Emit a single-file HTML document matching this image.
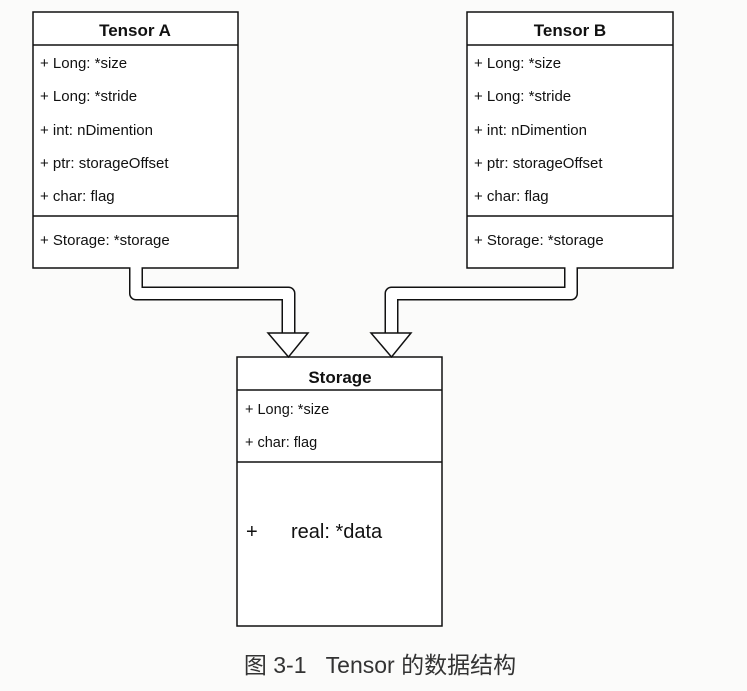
<!DOCTYPE html>
<html><head><meta charset="utf-8"><style>
html,body{margin:0;padding:0;background:#fbfbfa;}
svg{display:block}
text{font-family:"Liberation Sans",sans-serif;fill:#111}
</style></head><body>
<svg width="747" height="691" viewBox="0 0 747 691">
<rect width="747" height="691" fill="#fbfbfa"/>
<g stroke="#111" stroke-width="1.5" fill="#fff">
<rect x="33" y="12" width="205" height="256"/>
<line x1="33" y1="45" x2="238" y2="45"/>
<line x1="33" y1="216" x2="238" y2="216"/>
<rect x="467" y="12" width="206" height="256"/>
<line x1="467" y1="45" x2="673" y2="45"/>
<line x1="467" y1="216" x2="673" y2="216"/>
<rect x="237" y="357" width="205" height="269"/>
<line x1="237" y1="390" x2="442" y2="390"/>
<line x1="237" y1="462" x2="442" y2="462"/>
</g>
<g font-size="15">
<text x="135" y="36" text-anchor="middle" font-weight="bold" font-size="17">Tensor A</text>
<text x="40" y="68">+ Long: *size</text>
<text x="40" y="101">+ Long: *stride</text>
<text x="40" y="135">+ int:  nDimention</text>
<text x="40" y="168">+ ptr: storageOffset</text>
<text x="40" y="201">+ char: flag</text>
<text x="40" y="245">+ Storage: *storage</text>
<text x="570" y="36" text-anchor="middle" font-weight="bold" font-size="17">Tensor B</text>
<text x="474" y="68">+ Long: *size</text>
<text x="474" y="101">+ Long: *stride</text>
<text x="474" y="135">+ int:  nDimention</text>
<text x="474" y="168">+ ptr: storageOffset</text>
<text x="474" y="201">+ char: flag</text>
<text x="474" y="245">+ Storage: *storage</text>
<text x="340" y="383" text-anchor="middle" font-weight="bold" font-size="17">Storage</text>
<text x="245" y="414" font-size="14.5">+ Long: *size</text>
<text x="245" y="447" font-size="14.5">+ char: flag</text>
<text x="246" y="538" font-size="20">+</text>
<text x="291" y="538" font-size="20">real: *data</text>
</g>
<g fill="none" stroke-linejoin="round">
<path d="M136 268 V293.5 H288.5 V336" stroke="#111" stroke-width="14"/>
<path d="M136 266 V293.5 H288.5 V338" stroke="#fff" stroke-width="11"/>
<path d="M571 268 V293.5 H391.5 V336" stroke="#111" stroke-width="14"/>
<path d="M571 266 V293.5 H391.5 V338" stroke="#fff" stroke-width="11"/>
</g>
<g fill="#fff" stroke="#111" stroke-width="1.5">
<polygon points="268,333 308,333 288.5,357"/>
<polygon points="371,333 411,333 391.5,357"/>
</g>
<text x="380" y="673" text-anchor="middle" font-size="23" style="font-family:'Liberation Sans','Noto Sans CJK SC',sans-serif;fill:#333">图 3-1&#160;&#160;&#160;Tensor 的数据结构</text>
</svg>
</body></html>
